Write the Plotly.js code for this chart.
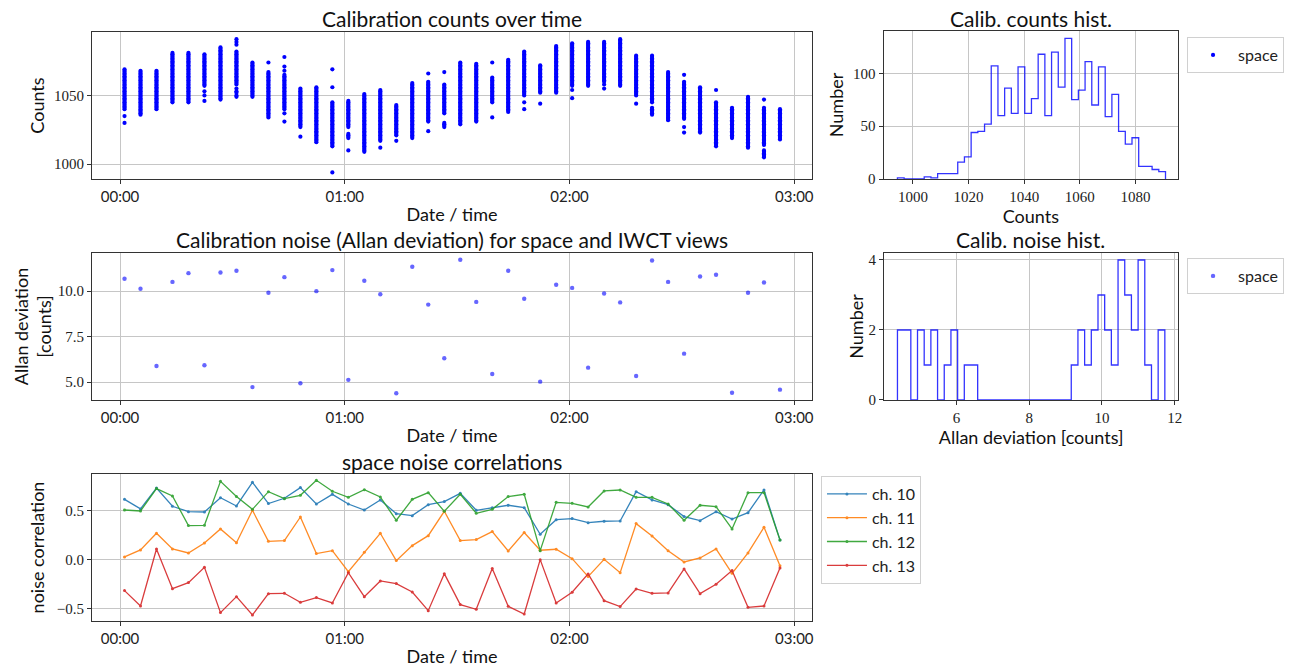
<!DOCTYPE html>
<html>
<head>
<meta charset="utf-8">
<script src="https://cdn.plot.ly/plotly-3.0.1.min.js"></script>
<style>html,body{margin:0;padding:0;background:#fff;}#chart{width:1289px;height:668px;}</style>
</head>
<body>
<div id="chart"></div>
<script>
// ---- data ----
const DAY = "2000-01-01 ";
const times = ["00:01:12","00:05:28","00:09:44","00:14:00","00:18:16","00:22:32","00:26:49","00:31:05","00:35:21","00:39:37","00:43:53","00:48:09","00:52:25","00:56:41","01:00:57","01:05:13","01:09:29","01:13:45","01:18:01","01:22:17","01:26:34","01:30:50","01:35:06","01:39:22","01:43:38","01:47:54","01:52:10","01:56:26","02:00:42","02:04:58","02:09:14","02:13:31","02:17:47","02:22:02","02:26:19","02:30:35","02:34:51","02:39:07","02:43:23","02:47:39","02:51:55","02:56:11"];

// calibration counts per time block: observed integer ranges [lo, hi]
const countRanges = [
  [[1040,1069],[1035,1035],[1030,1030]],
  [[1036,1068]],
  [[1040,1068]],
  [[1045,1081]],
  [[1045,1081]],
  [[1057,1080],[1053,1053],[1050,1050],[1046,1046]],
  [[1047,1085]],
  [[1058,1082],[1055,1055],[1052,1053],[1049,1050],[1087,1087],[1089,1089],[1091,1091]],
  [[1049,1074]],
  [[1034,1067],[1074,1074]],
  [[1040,1065],[1068,1068],[1071,1071],[1078,1078],[1037,1037],[1031,1031]],
  [[1027,1055],[1020,1020]],
  [[1016,1056]],
  [[1013,1045],[1056,1056],[1069,1069],[994,994]],
  [[1027,1046],[1019,1022],[1010,1010]],
  [[1009,1051]],
  [[1017,1054],[1012,1012]],
  [[1021,1043],[1017,1017]],
  [[1019,1059]],
  [[1031,1060],[1066,1066],[1024,1024]],
  [[1037,1058],[1067,1067],[1027,1030]],
  [[1029,1074]],
  [[1031,1073]],
  [[1045,1063],[1074,1074],[1034,1034]],
  [[1038,1076]],
  [[1050,1082],[1045,1045],[1040,1040]],
  [[1052,1072],[1044,1044]],
  [[1052,1086]],
  [[1057,1088],[1054,1054],[1048,1048]],
  [[1057,1089]],
  [[1060,1089],[1058,1058],[1055,1055]],
  [[1057,1091]],
  [[1050,1079],[1044,1044]],
  [[1045,1079],[1036,1041]],
  [[1032,1067]],
  [[1033,1060],[1065,1065],[1027,1027],[1023,1023]],
  [[1023,1056]],
  [[1013,1045],[1054,1054]],
  [[1019,1041]],
  [[1012,1049]],
  [[1014,1041],[1047,1047],[1005,1010]],
  [[1018,1040]]
];

// histogram of counts (40 bins)
const countsBinStart = 994.4;
const countsBinWidth = 2.41;
const countsHist = [1,0,0,0,2,1,5,5,5,16,21,44,45,52,107,60,86,62,106,62,76,118,60,120,87,133,75,84,111,70,106,59,80,45,33,39,12,12,9,7];

// Allan deviation per time block
const allanDev = [10.68,10.13,5.88,10.51,10.99,5.92,11.03,11.12,4.72,9.91,10.77,4.93,10.0,11.16,5.12,10.57,9.83,4.38,11.34,9.26,6.31,11.73,9.41,5.44,11.12,9.58,5.02,10.35,10.18,5.79,9.87,9.38,5.33,11.69,10.51,6.56,10.81,10.90,4.41,9.91,10.48,4.58];

// histogram of Allan deviation (40 bins)
const allanBinStart = 4.38;
const allanBinWidth = 0.18375;
const allanHist = [2,2,0,2,1,2,0,1,2,0,1,1,0,0,0,0,0,0,0,0,0,0,0,0,0,0,1,2,1,2,3,2,1,4,3,2,4,1,0,2];

// noise correlations
const corrLabels = ["ch. 10","ch. 11","ch. 12","ch. 13"];
const corrColors = ["#1f77b4","#ff7f0e","#2ca02c","#d62728"];
const ch10 = [0.611,0.514,0.726,0.541,0.486,0.483,0.628,0.544,0.784,0.568,0.622,0.730,0.564,0.662,0.564,0.503,0.605,0.466,0.446,0.557,0.588,0.672,0.500,0.527,0.551,0.527,0.257,0.405,0.416,0.375,0.389,0.392,0.689,0.605,0.557,0.436,0.395,0.486,0.412,0.476,0.706,0.200];
const ch11 = [0.027,0.098,0.267,0.108,0.068,0.169,0.311,0.172,0.500,0.186,0.193,0.432,0.061,0.091,-0.122,0.074,0.267,-0.010,0.142,0.243,0.490,0.193,0.203,0.284,0.088,0.274,0.095,0.105,0.010,-0.172,0.003,-0.132,0.365,0.240,0.091,-0.024,0.017,0.108,-0.139,0.068,0.328,-0.061];
const ch12 = [0.503,0.493,0.720,0.645,0.345,0.348,0.794,0.639,0.510,0.689,0.618,0.652,0.804,0.693,0.632,0.709,0.635,0.399,0.611,0.679,0.490,0.662,0.470,0.510,0.639,0.662,0.091,0.581,0.571,0.534,0.696,0.706,0.632,0.632,0.564,0.399,0.551,0.537,0.311,0.679,0.679,0.199];
const ch13 = [-0.314,-0.470,0.108,-0.294,-0.233,-0.078,-0.537,-0.375,-0.561,-0.345,-0.341,-0.432,-0.385,-0.439,-0.132,-0.375,-0.216,-0.243,-0.328,-0.517,-0.142,-0.456,-0.503,-0.091,-0.473,-0.551,0.000,-0.439,-0.331,-0.145,-0.416,-0.476,-0.297,-0.341,-0.338,-0.095,-0.345,-0.250,-0.111,-0.483,-0.470,-0.084];
const corrSeries = [ch10, ch11, ch12, ch13];

// ---- build traces ----
const tDates = times.map(t => DAY + t);

const scX = [], scY = [];
countRanges.forEach((ranges, i) => {
  ranges.forEach(([lo, hi]) => {
    for (let v = lo; v <= hi; v++) { scX.push(tDates[i]); scY.push(v); }
  });
});

function stepPath(start, width, counts) {
  const xs = [start], ys = [0];
  counts.forEach((c, i) => { xs.push(start + i * width); ys.push(c); });
  xs.push(start + counts.length * width); ys.push(0);
  return {x: xs, y: ys};
}
const h1 = stepPath(countsBinStart, countsBinWidth, countsHist);
const h2 = stepPath(allanBinStart, allanBinWidth, allanHist);

const SANS = "Lato, 'DejaVu Sans', sans-serif";
const SERIF = "'Liberation Serif', serif";

const traces = [
  {type:'scatter', mode:'markers', x:scX, y:scY, xaxis:'x', yaxis:'y', name:'space',
   marker:{color:'#0000ff', size:4.2}, legend:'legend', showlegend:true, hoverinfo:'skip'},
  {type:'scatter', mode:'lines', x:h1.x, y:h1.y, xaxis:'x2', yaxis:'y2', showlegend:false,
   line:{color:'rgba(0,0,255,0.8)', width:1.3, shape:'hv'}, hoverinfo:'skip'},
  {type:'scatter', mode:'markers', x:tDates, y:allanDev, xaxis:'x3', yaxis:'y3', name:'space',
   marker:{color:'rgba(0,0,255,0.6)', size:4.4}, legend:'legend2', showlegend:true, hoverinfo:'skip'},
  {type:'scatter', mode:'lines', x:h2.x, y:h2.y, xaxis:'x4', yaxis:'y4', showlegend:false,
   line:{color:'rgba(0,0,255,0.8)', width:1.3, shape:'hv'}, hoverinfo:'skip'}
];
corrSeries.forEach((s, k) => {
  traces.push({type:'scatter', mode:'lines+markers', x:tDates, y:s, xaxis:'x5', yaxis:'y5',
    name:corrLabels[k], legend:'legend3', line:{color:corrColors[k], width:1.3},
    marker:{color:corrColors[k], size:3}, opacity:0.9, hoverinfo:'skip'});
});

function ax(extra) {
  return Object.assign({
    showline:true, mirror:true, linecolor:'#333', linewidth:1,
    ticks:'outside', ticklen:4, tickcolor:'#333', tickwidth:1,
    showgrid:true, gridcolor:'#c6c6c6', gridwidth:1, zeroline:false,
    tickfont:{family:SERIF, size:15, color:'#222'}
  }, extra);
}
const timeRange = ["1999-12-31 23:52:31", "2000-01-01 03:04:44"];
function timeAx(anchor) {
  return ax({type:'date', anchor:anchor, domain:[0.07137, 0.62995], range:timeRange,
    tick0:'2000-01-01 00:00:00', dtick:3600000, tickformat:'%H:%M',
    tickfont:{family:SANS, size:15, color:'#222'},
    title:{text:'Date / time', font:{family:SANS, size:18, color:'#111'}, standoff:4}});
}

const legendBase = {xanchor:'left', yanchor:'top', bgcolor:'rgba(255,255,255,0.9)',
  bordercolor:'#d0d0d0', borderwidth:1, itemwidth:40, font:{family:SANS, size:16, color:'#222'}};

const labelFont = {family:SANS, size:18, color:'#111'};

const layout = {
  width:1289, height:668, margin:{l:0, r:0, t:0, b:0},
  paper_bgcolor:'#fff', plot_bgcolor:'#fff', showlegend:true,
  xaxis: timeAx('y'),
  yaxis: ax({domain:[0.73204, 0.95210], anchor:'x', range:[989.2, 1096.2], tickvals:[1000,1050],
    title:{text:'Counts', font:labelFont, standoff:4}}),
  xaxis2: ax({domain:[0.68542, 0.91412], anchor:'y2', range:[989.4, 1095.4], dtick:20, tick0:1000,
    title:{text:'Counts', font:labelFont, standoff:3}}),
  yaxis2: ax({domain:[0.73204, 0.95359], anchor:'x2', range:[0, 140], dtick:50,
    title:{text:'Number', font:labelFont, standoff:4}}),
  xaxis3: timeAx('y3'),
  yaxis3: ax({domain:[0.40120, 0.62126], anchor:'x3', range:[4.01, 12.1], dtick:2.5, tick0:0, tickformat:'.1f',
    title:{text:'Allan deviation<br>[counts]', font:labelFont, standoff:1}}),
  xaxis4: ax({domain:[0.68580, 0.91412], anchor:'y4', range:[4.01, 12.1], dtick:2, tick0:0,
    title:{text:'Allan deviation [counts]', font:labelFont, standoff:3}}),
  yaxis4: ax({domain:[0.40120, 0.62126], anchor:'x4', range:[0, 4.2], dtick:2,
    title:{text:'Number', font:labelFont, standoff:0}}),
  xaxis5: timeAx('y5'),
  yaxis5: ax({domain:[0.07036, 0.29042], anchor:'x5', range:[-0.622, 0.868], dtick:0.5, tick0:0, tickformat:'.1f',
    title:{text:'noise correlation', font:labelFont, standoff:7}}),
  legend: Object.assign({}, legendBase, {x:0.9209, y:1-37/668}),
  legend2: Object.assign({}, legendBase, {x:0.9209, y:1-258/668}),
  legend3: Object.assign({}, legendBase, {x:0.6369, y:1-476/668}),
  annotations: [
    {text:'Calibration counts over time', x:0.3507, y:1-18/668},
    {text:'Calibration noise (Allan deviation) for space and IWCT views', x:0.3507, y:1-240/668},
    {text:'space noise correlations', x:0.3507, y:1-461/668},
    {text:'Calib. counts hist.', x:0.7998, y:1-18/668},
    {text:'Calib. noise hist.', x:0.7998, y:1-240/668}
  ].map(a => Object.assign({xref:'paper', yref:'paper', xanchor:'center', yanchor:'middle', showarrow:false,
    font:{family:SANS, size:21, color:'#111'}}, a))
};

Plotly.newPlot('chart', traces, layout, {staticPlot:true, displayModeBar:false});
</script>
</body>
</html>
